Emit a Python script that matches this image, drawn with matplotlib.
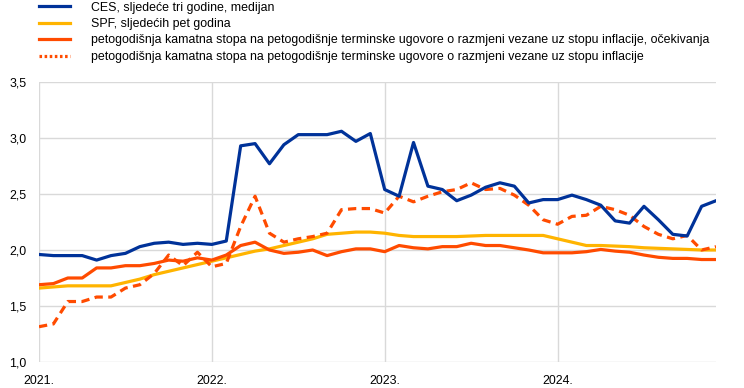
import matplotlib
matplotlib.use("Agg")
import matplotlib.pyplot as plt
from matplotlib.lines import Line2D
import numpy as np

plt.rcParams['font.family'] = ['Liberation Sans', 'DejaVu Sans']

# monthly observations, Jan 2021 - Dec 2024
months = np.arange(48)
year_labels = ['2021.', '2022.', '2023.', '2024.']

ces = [1.96, 1.95, 1.95, 1.95, 1.91, 1.95, 1.97, 2.03, 2.06, 2.07, 2.05, 2.06,
       2.05, 2.08, 2.93, 2.95, 2.77, 2.94, 3.03, 3.03, 3.03, 3.06, 2.97, 3.04,
       2.54, 2.48, 2.96, 2.57, 2.54, 2.44, 2.49, 2.56, 2.60, 2.57, 2.42, 2.45,
       2.45, 2.49, 2.45, 2.40, 2.26, 2.24, 2.39, 2.27, 2.14, 2.125, 2.39, 2.44]

spf = [1.66, 1.67, 1.68, 1.68, 1.68, 1.68, 1.71, 1.74, 1.78, 1.81, 1.84, 1.87,
       1.90, 1.93, 1.96, 1.99, 2.01, 2.04, 2.07, 2.10, 2.14, 2.15, 2.16, 2.16,
       2.15, 2.13, 2.12, 2.12, 2.12, 2.12, 2.125, 2.13, 2.13, 2.13, 2.13, 2.13,
       2.10, 2.07, 2.04, 2.04, 2.035, 2.03, 2.02, 2.015, 2.01, 2.005, 2.0, 2.0]

swap_exp = [1.69, 1.70, 1.75, 1.75, 1.84, 1.84, 1.86, 1.86, 1.88, 1.91, 1.90, 1.93,
            1.91, 1.955, 2.04, 2.07, 2.00, 1.97, 1.98, 2.00, 1.95, 1.985, 2.01, 2.01,
            1.985, 2.04, 2.02, 2.01, 2.03, 2.03, 2.06, 2.04, 2.04, 2.02, 2.00, 1.975,
            1.975, 1.975, 1.985, 2.005, 1.99, 1.98, 1.955, 1.935, 1.925, 1.925, 1.915, 1.915]

swap = [1.315, 1.34, 1.54, 1.54, 1.58, 1.58, 1.66, 1.69, 1.79, 1.955, 1.86, 1.98,
        1.85, 1.88, 2.21, 2.48, 2.15, 2.07, 2.10, 2.12, 2.15, 2.36, 2.37, 2.37,
        2.33, 2.48, 2.43, 2.48, 2.52, 2.54, 2.60, 2.54, 2.55, 2.49, 2.40, 2.27,
        2.23, 2.30, 2.31, 2.39, 2.36, 2.31, 2.21, 2.14, 2.10, 2.13, 2.00, 2.03]

labels = ['CES, sljedeće tri godine, medijan',
          'SPF, sljedećih pet godina',
          'petogodišnja kamatna stopa na petogodišnje terminske ugovore o razmjeni vezane uz stopu inflacije, očekivanja',
          'petogodišnja kamatna stopa na petogodišnje terminske ugovore o razmjeni vezane uz stopu inflacije']

blue = '#003299'
yellow = '#FFB400'
orange = '#FF4B00'
lw = 2.3
fs = 8.95

fig = plt.figure(figsize=(7.44, 3.88), dpi=100)
ax = fig.add_axes([39 / 744, 26 / 388, 677 / 744, 280 / 388])

ax.plot(months, swap, color=orange, lw=lw, dashes=(2.6, 1.7), zorder=3)
ax.plot(months, swap_exp, color=orange, lw=lw, zorder=4)
ax.plot(months, spf, color=yellow, lw=lw, zorder=2)
ax.plot(months, ces, color=blue, lw=lw, zorder=5)

ax.set_xlim(0, 47)
ax.set_ylim(1.0, 3.5)
ax.set_yticks(np.arange(1.0, 3.51, 0.5))
ax.set_yticklabels([f'{v:.1f}'.replace('.', ',') for v in np.arange(1.0, 3.51, 0.5)])
ax.set_xticks([0, 12, 24, 36])
ax.set_xticklabels(year_labels)
ax.tick_params(length=0, labelsize=fs, colors='black')
ax.tick_params(axis='x', pad=9)
ax.tick_params(axis='y', pad=9)
ax.grid(True, color='#d9d9d9', lw=1)
ax.set_axisbelow(True)
for s in ax.spines.values():
    s.set_visible(False)

handles = [Line2D([], [], color=blue, lw=lw),
           Line2D([], [], color=yellow, lw=lw),
           Line2D([], [], color=orange, lw=lw),
           Line2D([], [], color=orange, lw=lw, dashes=(0.8, 0.8))]
fig.legend(handles, labels, loc='upper left', bbox_to_anchor=(39 / 744, 1 - 1.5 / 388),
           frameon=False, fontsize=fs, handlelength=2.5, handletextpad=1.65,
           labelspacing=0.36, borderpad=0.0, borderaxespad=0.0)

fig.savefig('out.png', dpi=100)
